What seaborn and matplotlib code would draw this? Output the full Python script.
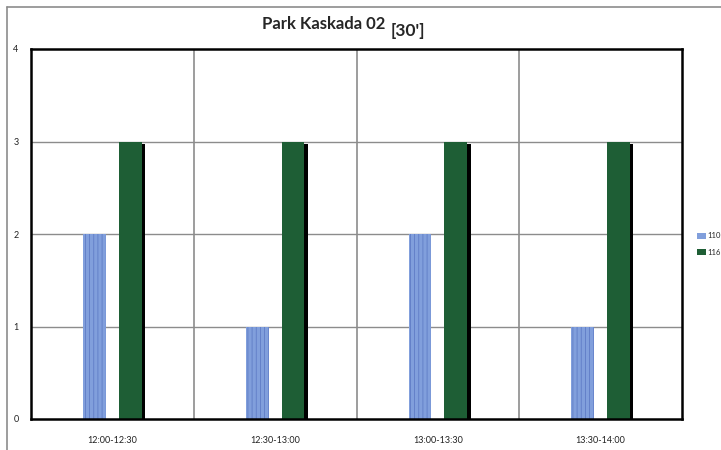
import pandas as pd
import numpy as np
import seaborn as sns
import matplotlib.pyplot as plt
import matplotlib.patheffects as pe
from matplotlib.lines import Line2D

# values
periods = ['12:00-12:30', '12:30-13:00', '13:00-13:30', '13:30-14:00']
s110 = [2, 1, 2, 1]
s116 = [3, 3, 3, 3]
series_names = ['110', '116']

df = pd.DataFrame({
    'period': periods * 2,
    'count': s110 + s116,
    'series': [series_names[0]] * 4 + [series_names[1]] * 4,
})

sns.set_style('white')
plt.rcParams['font.family'] = ['Lato', 'DejaVu Sans']
plt.rcParams['hatch.linewidth'] = 0.6

fig = plt.figure(figsize=(7.21, 4.5), dpi=100)
ax = fig.add_axes([31/721, 1 - 419/450, (682-31)/721, (419-49)/450])

pal = {'110': '#819FDC', '116': '#1E5E35'}
sns.barplot(data=df, x='period', y='count', hue='series', palette=pal,
            width=0.44, gap=0.36, ax=ax, saturation=1, errorbar=None)

# blue bars get a light texture, green bars a drop shadow
for bar in ax.containers[0]:
    bar.set_hatch('||||')
    bar.set_edgecolor('#5F7CC6')
    bar.set_linewidth(0)
for bar in ax.containers[1]:
    bar.set_linewidth(0)
    bar.set_path_effects([pe.SimplePatchShadow(offset=(2.5, -1.5), shadow_rgbFace='black', alpha=1), pe.Normal()])

ax.set_ylim(0, 4)
ax.set_xlim(-0.5, 3.5)
ax.set_yticks([0, 1, 2, 3, 4])
ax.set_xlabel('')
ax.set_ylabel('')
ax.tick_params(axis='both', length=0, labelsize=6.5, colors='#222222')
ax.tick_params(axis='x', pad=12)
ax.tick_params(axis='y', pad=9)

for y in [1, 2, 3]:
    ax.axhline(y, color='#8C8C8C', lw=1, zorder=0)
for x in [0.5, 1.5, 2.5]:
    ax.axvline(x, color='#8C8C8C', lw=1.2, zorder=0)

for sp in ax.spines.values():
    sp.set_color('black')
    sp.set_linewidth(1.8)

# legend
ax.legend_.remove()
handles = [plt.Rectangle((0, 0), 1, 1, facecolor=pal[n], edgecolor='none') for n in series_names]
fig.legend(handles, series_names, loc='center left', bbox_to_anchor=(697/721, 1 - 244/450),
           frameon=False, fontsize=5.5, handlelength=1.2, handleheight=0.8,
           handletextpad=0.1, labelspacing=1.2, borderpad=0, borderaxespad=0)

# title
fig.text(262/721, 1 - 29/450, "Park Kaskada 02", ha='left', va='baseline',
         fontsize=12, fontweight='bold')
fig.text(391/721, 1 - 36/450, "[30']", ha='left', va='baseline',
         fontsize=12.5, fontweight='bold')

# chart-area border (left and top visible)
fig.add_artist(Line2D([7/721, 7/721], [0, 1 - 7/450], color='#8C8C8C', lw=1.2))
fig.add_artist(Line2D([7/721, 1], [1 - 7/450, 1 - 7/450], color='#8C8C8C', lw=1.2))

fig.savefig('out.png', dpi=100)
